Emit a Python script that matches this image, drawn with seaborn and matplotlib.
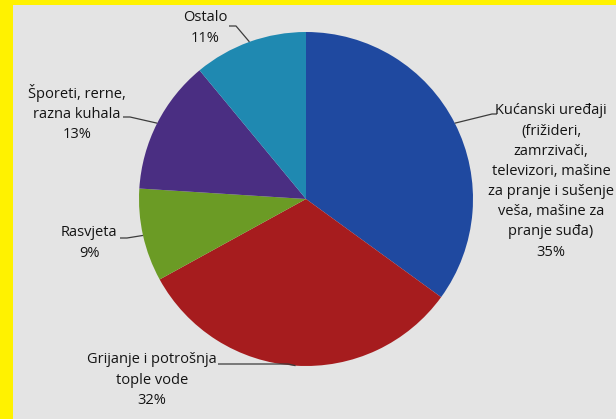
import numpy as np
import matplotlib
matplotlib.use('Agg')
import matplotlib.pyplot as plt
from matplotlib.patches import Rectangle
import seaborn as sns

# ── Data ───────────────────────────────────────────────────────────
categories = [
    'Kućanski uređaji\n(frižideri,\nzamrzivači,\ntelevizori, mašine\nza pranje i sušenje\nveša, mašine za\npranje suđa)',
    'Grijanje i potrošnja\ntople vode',
    'Rasvjeta',
    'Šporeti, rerne,\nrazna kuhala',
    'Ostalo',
]
shares = [35, 32, 9, 13, 11]
slice_colors = ['#1F49A0', '#A61C1E', '#6B9B25', '#4A2E82', '#1F89B1']

# ── Theme ──────────────────────────────────────────────────────────
YELLOW = '#FFF200'
PANEL = '#E4E4E4'
INK = '#141414'
LEADER = '#3C3C3C'

sns.set_theme(style='white')
plt.rcParams['font.family'] = ['Open Sans', 'DejaVu Sans']

W, H = 616, 419
fig = plt.figure(figsize=(W / 100, H / 100), dpi=100)
fig.patch.set_facecolor(YELLOW)
fig.patches.append(Rectangle((13 / W, 0), 1 - 13 / W, 1 - 5 / H,
                             transform=fig.transFigure, facecolor=PANEL,
                             edgecolor='none', zorder=-5))

# axes in pixel units (y measured from the bottom)
ax = fig.add_axes([0, 0, 1, 1])
ax.set_zorder(2)
cx, cy, r = 306, H - 199, 167
wedges, _ = ax.pie(shares, colors=slice_colors, startangle=90,
                   counterclock=False, center=(cx, cy), radius=r,
                   wedgeprops={'linewidth': 0})
ax.set_aspect('auto')
ax.set_xlim(0, W)
ax.set_ylim(0, H)
ax.axis('off')

# label layout: text centre and leader path start (pixel coords from top)
label_pos = [(551, 181.5), (152, 380), (89, 243), (77, 113), (205, 28)]
leader_start = [
    [(497, 114), (492, 114)],
    [(218, 364), (288, 364)],
    [(120, 238), (127, 238)],
    [(123, 117), (130, 117)],
    [(229, 26), (236, 26)],
]

for w, name, val, (tx, ty), path in zip(wedges, categories, shares,
                                        label_pos, leader_start):
    mid = np.deg2rad((w.theta1 + w.theta2) / 2)
    px, py = cx + r * np.cos(mid), cy + r * np.sin(mid)
    xs = [p[0] for p in path] + [px]
    ys = [H - p[1] for p in path] + [py]
    ax.plot(xs, ys, color=LEADER, lw=0.9, solid_capstyle='butt', zorder=3)
    ax.text(tx, H - ty, f'{name}\n{val}%', ha='center', va='center',
            multialignment='center', fontsize=10.5, color=INK,
            linespacing=1.47, zorder=4)

fig.savefig('out.png', dpi=100, facecolor=YELLOW)
